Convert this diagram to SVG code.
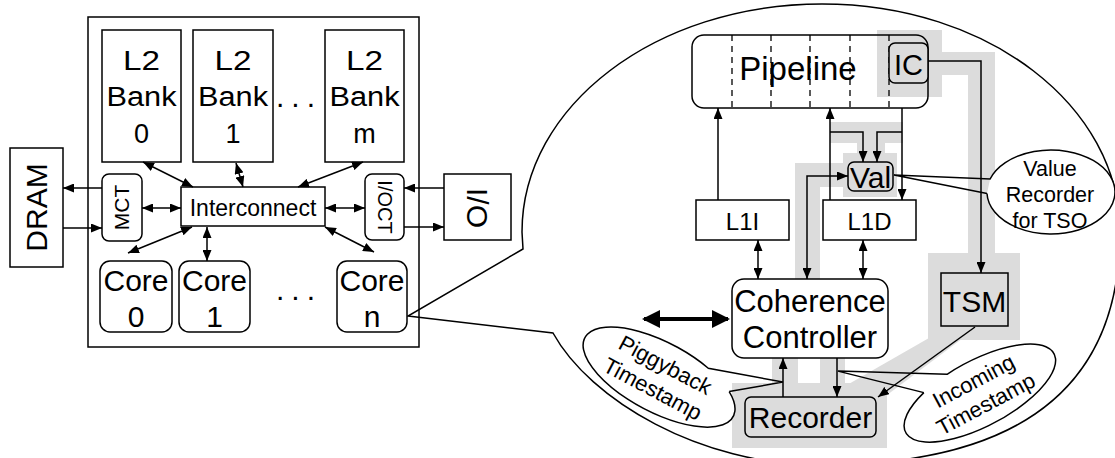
<svg xmlns="http://www.w3.org/2000/svg" width="1115" height="458" viewBox="0 0 1115 458">
<defs>
<style>
text{font-family:"Liberation Sans",Arial,Helvetica,sans-serif;fill:#000}
.b{fill:#fff;stroke:#000;stroke-width:1.5}
.n{fill:none;stroke:#000;stroke-width:1.5}
.g{fill:#dcdcdc;stroke:#000;stroke-width:1.5}
.hl{fill:#dcdcdc;stroke:none}
.ln{fill:none;stroke:#000;stroke-width:1.5}
.d{fill:none;stroke:#000;stroke-width:1.3;stroke-dasharray:6,5}
.m{text-anchor:middle}
</style>
<marker id="a" viewBox="0 0 11 9" refX="11" refY="4.5" markerWidth="11" markerHeight="9" markerUnits="userSpaceOnUse" orient="auto-start-reverse"><path d="M0,0L11,4.5L0,9z" fill="#000"/></marker>
<marker id="big" viewBox="0 0 18 18" refX="16" refY="9" markerWidth="18" markerHeight="18" markerUnits="userSpaceOnUse" orient="auto-start-reverse"><path d="M0,0L18,9L0,18z" fill="#000"/></marker>
</defs>
<rect width="1115" height="458" fill="#fff"/>

<!-- Magnified core callout -->
<g id="core-detail">
<path d="M523,249 L522,232 C522,106 656,4 822,4 C988,4 1120,106 1120,232 C1120,380 1030,465 820,465 C700,465 590,400 553,333 L408,316 Z" fill="#fff" stroke="#000" stroke-width="1.5"/>
</g>

<!-- grey highlighted path -->
<g id="highlight">
<rect class="hl" x="877" y="30" width="65" height="67"/>
<rect class="hl" x="942" y="52" width="53" height="23"/>
<rect class="hl" x="968" y="52" width="27" height="201"/>
<rect class="hl" x="928" y="253" width="92" height="87"/>
<polygon class="hl" points="929,338 963,338 887,395 847,385"/>
<rect class="hl" x="732" y="383" width="155" height="65"/>
<rect class="hl" x="772" y="350" width="26" height="35"/>
<rect class="hl" x="820" y="350" width="25" height="35"/>
<rect class="hl" x="843" y="153" width="54" height="44"/>
<rect class="hl" x="857" y="132" width="28" height="22"/>
<rect class="hl" x="830" y="122" width="73" height="21"/>
<rect class="hl" x="795" y="163" width="50" height="24"/>
<rect class="hl" x="795" y="163" width="25" height="120"/>
</g>

<!-- Left: chip -->
<g id="chip"><rect class="n" x="88" y="17" width="331" height="330"/></g>
<g id="l2bank0"><rect class="b" x="102" y="30" width="79" height="132"/>
<text class="m" x="141.5" y="70" font-size="27" textLength="37" lengthAdjust="spacingAndGlyphs">L2</text>
<text class="m" x="141.5" y="106" font-size="27" textLength="70" lengthAdjust="spacingAndGlyphs">Bank</text>
<text class="m" x="141.5" y="143" font-size="27">0</text></g>
<g id="l2bank1"><rect class="b" x="193" y="30" width="80" height="132"/>
<text class="m" x="233" y="70" font-size="27" textLength="37" lengthAdjust="spacingAndGlyphs">L2</text>
<text class="m" x="233" y="106" font-size="27" textLength="70" lengthAdjust="spacingAndGlyphs">Bank</text>
<text class="m" x="233" y="143" font-size="27">1</text></g>
<g id="l2bankm"><rect class="b" x="325" y="30" width="79" height="132"/>
<text class="m" x="364.5" y="70" font-size="27" textLength="37" lengthAdjust="spacingAndGlyphs">L2</text>
<text class="m" x="364.5" y="106" font-size="27" textLength="70" lengthAdjust="spacingAndGlyphs">Bank</text>
<text class="m" x="364.5" y="143" font-size="27">m</text></g>
<g id="bank-dots"><text x="276" y="107" font-size="30" letter-spacing="7">...</text></g>
<g id="dram"><rect class="b" x="10" y="148" width="53" height="119"/>
<text class="m" font-size="30" transform="translate(36.5,207.5) rotate(-90)" dy="0.35em">DRAM</text></g>
<g id="mct"><rect class="b" x="102" y="174" width="40" height="67" rx="7"/>
<text class="m" font-size="21" transform="translate(122,207.5) rotate(-90)" dy="0.35em">MCT</text></g>
<g id="interconnect"><rect class="b" x="181" y="187" width="144" height="39"/>
<text class="m" x="253" y="216" font-size="23">Interconnect</text></g>
<g id="ioct"><rect class="b" x="365" y="174" width="39" height="66" rx="7"/>
<text class="m" font-size="20" transform="translate(384.5,207) rotate(90)" dy="0.35em">I/OCT</text></g>
<g id="io"><rect class="b" x="444" y="174" width="67" height="66"/>
<text class="m" font-size="30" transform="translate(477.5,208) rotate(90)" dy="0.35em">I/O</text></g>
<g id="core0"><rect class="b" x="100" y="261" width="72" height="71" rx="10"/>
<text class="m" x="136" y="291" font-size="30">Core</text>
<text class="m" x="136" y="327" font-size="30">0</text></g>
<g id="core1"><rect class="b" x="179" y="261" width="71" height="71" rx="10"/>
<text class="m" x="214.5" y="291" font-size="30">Core</text>
<text class="m" x="214.5" y="327" font-size="30">1</text></g>
<g id="coren"><rect class="b" x="337" y="261" width="70" height="71" rx="10"/>
<text class="m" x="372" y="291" font-size="30">Core</text>
<text class="m" x="372" y="327" font-size="30">n</text></g>
<g id="core-dots"><text x="276" y="300" font-size="30" letter-spacing="7">...</text></g>

<!-- Right: core detail nodes -->
<g id="pipeline"><rect class="n" x="692" y="35" width="236" height="73" rx="12"/>
<line class="d" x1="732" y1="35" x2="732" y2="108"/>
<line class="d" x1="771" y1="35" x2="771" y2="108"/>
<line class="d" x1="810" y1="35" x2="810" y2="108"/>
<line class="d" x1="850" y1="35" x2="850" y2="108"/>
<line class="d" x1="889" y1="35" x2="889" y2="108"/>
<text class="m" x="798" y="80" font-size="33">Pipeline</text></g>
<g id="ic"><rect class="g" x="889" y="43" width="39" height="40" rx="6"/>
<text class="m" x="908.5" y="75" font-size="29">IC</text></g>
<g id="val"><rect class="g" x="848" y="162" width="45" height="29" rx="6"/>
<text class="m" x="870.5" y="188" font-size="30">Val</text></g>
<g id="l1i"><rect class="b" x="696" y="200" width="93" height="40"/>
<text class="m" x="742.5" y="230" font-size="24">L1I</text></g>
<g id="l1d"><rect class="b" x="823" y="200" width="93" height="40"/>
<text class="m" x="869.5" y="230" font-size="24">L1D</text></g>
<g id="coherence"><rect class="b" x="732" y="279" width="156" height="79" rx="12"/>
<text class="m" x="810" y="312" font-size="31">Coherence</text>
<text class="m" x="810" y="348" font-size="31">Controller</text></g>
<g id="tsm"><rect class="g" x="941" y="273" width="67" height="53"/>
<text class="m" x="974.5" y="312" font-size="30">TSM</text></g>
<g id="recorder"><rect class="g" x="745" y="397" width="131" height="40" rx="6"/>
<text class="m" x="810.5" y="428" font-size="30">Recorder</text></g>

<!-- Callouts -->
<g id="value-recorder">
<path d="M990.1,179 A64,42 0 1 1 987,193.5 Z" fill="#fff"/>
<path class="ln" d="M987,193.5 L894,175 L990.1,179 A64,42 0 1 1 987,193.5"/>
<text class="m" x="1050" y="176" font-size="21.5">Value</text>
<text class="m" x="1050" y="202" font-size="21.5">Recorder</text>
<text class="m" x="1050" y="228" font-size="21.5">for TSO</text></g>
<g id="piggyback" transform="translate(659,377) rotate(28)">
<path d="M39.4,-30.9 A84,35 0 1 0 68.8,-20.1 Z" fill="#fff"/>
<path class="ln" d="M68.8,-20.1 L111.8,-53.7 L39.4,-30.9 A84,35 0 1 0 68.8,-20.1"/>
<text class="m" x="0" y="-6" font-size="22">Piggyback</text>
<text class="m" x="0" y="21" font-size="22">Timestamp</text></g>
<g id="incoming" transform="translate(980,393) rotate(-28)">
<path d="M-20.3,-32 A84,33 0 1 1 -49.4,-26.7 Z" fill="#fff"/>
<path class="ln" d="M-49.4,-26.7 L-115.1,-86 L-20.3,-32 A84,33 0 1 1 -49.4,-26.7"/>
<text class="m" x="0" y="-6" font-size="22">Incoming</text>
<text class="m" x="0" y="20" font-size="22">Timestamp</text></g>

<!-- Connectors -->
<g id="connectors" class="ln" marker-end="url(#a)">
<line x1="102" y1="188" x2="63" y2="188"/>
<line x1="63" y1="228" x2="102" y2="228"/>
<line x1="142" y1="208" x2="181" y2="208" marker-start="url(#a)"/>
<line x1="325" y1="208" x2="365" y2="208" marker-start="url(#a)"/>
<line x1="444" y1="188" x2="404" y2="188"/>
<line x1="404" y1="227" x2="444" y2="227"/>
<line x1="143" y1="162" x2="193" y2="187" marker-start="url(#a)"/>
<line x1="236" y1="163" x2="243" y2="187" marker-start="url(#a)"/>
<line x1="363" y1="162" x2="298" y2="187" marker-start="url(#a)"/>
<line x1="192" y1="227" x2="128" y2="253" marker-start="url(#a)"/>
<line x1="207" y1="227" x2="207" y2="261" marker-start="url(#a)"/>
<line x1="325" y1="227" x2="374" y2="252" marker-start="url(#a)"/>
<line x1="718" y1="200" x2="718" y2="108"/>
<line x1="830" y1="200" x2="830" y2="108"/>
<line x1="902" y1="108" x2="902" y2="200"/>
<path d="M830,132 H863 V162"/>
<path d="M902,132 H877 V162"/>
<path d="M848,176 H807 V279" marker-start="url(#a)"/>
<line x1="758" y1="240" x2="758" y2="279" marker-start="url(#a)"/>
<line x1="863" y1="240" x2="863" y2="279" marker-start="url(#a)"/>
<path d="M928,61 H981 V273"/>
<line x1="837" y1="358" x2="837" y2="397"/>
<line x1="783" y1="397" x2="783" y2="358"/>
<line x1="975" y1="327" x2="878" y2="397"/>
<line x1="644" y1="319" x2="728" y2="319" stroke-width="4" marker-start="url(#big)" marker-end="url(#big)"/>
</g>
</svg>
